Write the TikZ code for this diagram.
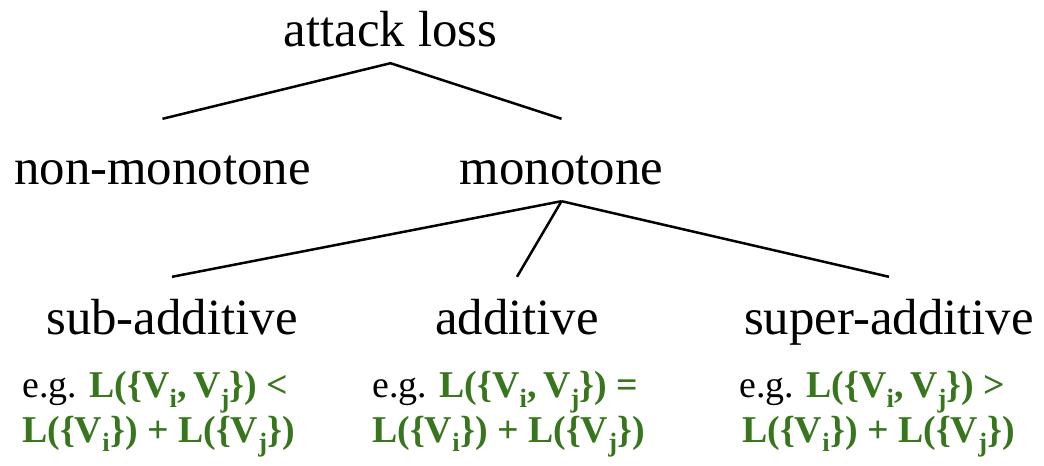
\documentclass[tikz,border=0pt]{standalone}
\usepackage{fontspec}
\setmainfont{Liberation Serif}
\definecolor{eggreen}{HTML}{38761D}
\tikzset{
  lvl/.style={font=\fontsize{51}{60}\selectfont, anchor=base, inner xsep=0pt,
    inner ysep=5bp, text height=36bp, text depth=11bp},
  example/.style={font=\fontsize{38}{45}\selectfont, anchor=base west,
    align=left, inner sep=0pt},
  branch/.style={line width=2.5bp, black},
}
\newcommand{\eqpart}[1]{{\bfseries\color{eggreen}#1}}
\newcommand{\sbi}[1]{\textsubscript{#1}}
\begin{document}
\begin{tikzpicture}[x=1bp,y=-1bp]
  \useasboundingbox (0,0) rectangle (1044,466);

  % tree levels
  \node[lvl] (root) at (390.5,47) {attack loss};
  \node[lvl] (nm)   at (162.5,185) {non-monotone};
  \node[lvl] (mono) at (561.5,185) {monotone};
  \node[lvl] (sub)  at (172,335) {sub-additive};
  \node[lvl] (add)  at (517,335) {additive};
  \node[lvl] (sup)  at (889,335) {super-additive};

  % examples under each leaf (anchored at the baseline of the second line)
  \node[example] (exsub) at (22,442)
    {e.g. \eqpart{L(\{V\sbi{i},\,V\sbi{j}\}) <}\\
     \eqpart{L(\{V\sbi{i}\}) + L(\{V\sbi{j}\})}};
  \node[example] (exadd) at (372,442)
    {e.g. \eqpart{L(\{V\sbi{i},\,V\sbi{j}\}) =}\\
     \eqpart{L(\{V\sbi{i}\}) + L(\{V\sbi{j}\})}};
  \node[example] (exsup) at (739,442)
    {e.g. \eqpart{L(\{V\sbi{i},\,V\sbi{j}\}) >}\\
     \hspace*{3bp}\eqpart{L(\{V\sbi{i}\}) + L(\{V\sbi{j}\})}};

  % branches
  \draw[branch] ([yshift=25bp]nm.north) -- (root.south) -- ([yshift=25bp]mono.north);
  \draw[branch] ([yshift=17bp]sub.north) -- (mono.south);
  \draw[branch] ([yshift=17bp]add.north) -- (mono.south);
  \draw[branch] ([yshift=17bp]sup.north) -- (mono.south);
\end{tikzpicture}
\end{document}
